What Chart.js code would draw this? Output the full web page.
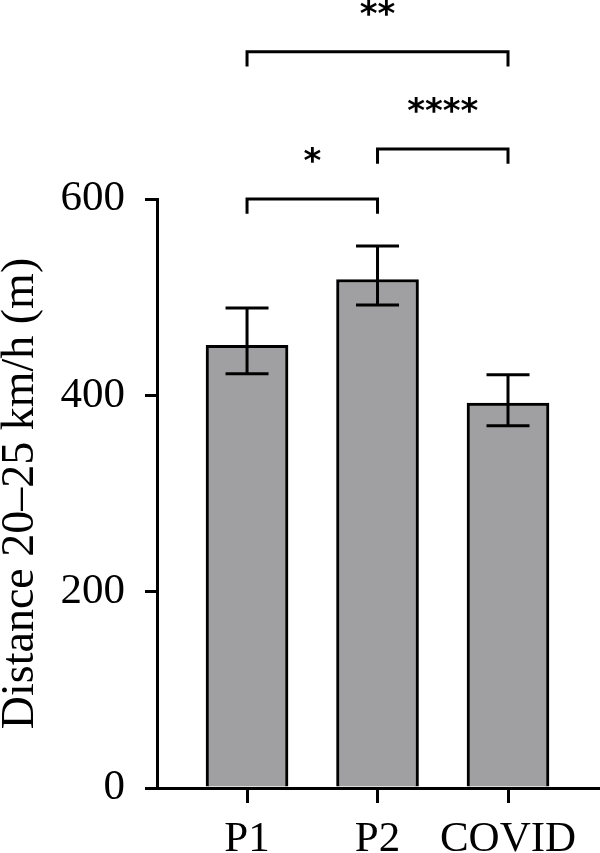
<!DOCTYPE html>
<html>
<head>
<meta charset="utf-8">
<script src="https://cdn.jsdelivr.net/npm/chart.js@4"></script>
<style>
  html, body { margin: 0; padding: 0; background: #fff; }
  #wrap { width: 600px; height: 853px; position: relative; }
</style>
</head>
<body>
<div id="wrap"><canvas id="myChart"></canvas></div>
<script>
// datos del grafico
const categories = ['P1', 'P2', 'COVID'];
const means = [451, 518, 392];
const errUpper = [489, 552, 421];
const errLower = [422, 492, 369];
const yTicks = [0, 200, 400, 600];
// comparaciones: [desde, hasta, altura, etiqueta]
const brackets = [
    [0, 1, 600, '*'],
    [1, 2, 651, '****'],
    [0, 2, 750, '**']
];

const serif = '"Liberation Serif", "DejaVu Serif", serif';

// dibuja barras de error y corchetes de significancia
const extras = {
    id: 'extras',
    afterDatasetsDraw(chart) {
        const ctx = chart.ctx;
        const x = chart.scales.x;
        const y = chart.scales.y;
        ctx.save();
        ctx.strokeStyle = '#000';
        ctx.lineWidth = 3;
        ctx.lineCap = 'butt';
        // error bars
        means.forEach((m, i) => {
            const cx = x.getPixelForValue(i);
            const top = y.getPixelForValue(errUpper[i]);
            const bot = y.getPixelForValue(errLower[i]);
            ctx.beginPath();
            ctx.moveTo(cx, top);
            ctx.lineTo(cx, bot);
            ctx.moveTo(cx - 21.5, top);
            ctx.lineTo(cx + 21.5, top);
            ctx.moveTo(cx - 21.5, bot);
            ctx.lineTo(cx + 21.5, bot);
            ctx.stroke();
        });
        // corchetes
        ctx.font = 'bold 34px "DejaVu Sans", sans-serif';
        ctx.fillStyle = '#000';
        ctx.textAlign = 'center';
        ctx.textBaseline = 'alphabetic';
        brackets.forEach(([a, b, h, label]) => {
            const x1 = x.getPixelForValue(a);
            const x2 = x.getPixelForValue(b);
            const yy = y.getPixelForValue(h);
            const drop = y.getPixelForValue(h - 15) - yy;
            ctx.beginPath();
            ctx.moveTo(x1, yy + drop);
            ctx.lineTo(x1, yy);
            ctx.lineTo(x2, yy);
            ctx.lineTo(x2, yy + drop);
            ctx.stroke();
            const mt = ctx.measureText(label);
            const cy = y.getPixelForValue(h + 45);
            const off = (mt.actualBoundingBoxAscent - mt.actualBoundingBoxDescent) / 2;
            ctx.fillText(label, (x1 + x2) / 2, cy + off);
        });
        ctx.restore();
    }
};

const ctx = document.getElementById('myChart').getContext('2d');
const myChart = new Chart(ctx, {
    type: 'bar',
    data: {
        datasets: [{
            data: means.map((v, i) => ({ x: i, y: v })),
            backgroundColor: '#a0a0a2',
            borderColor: '#000',
            borderWidth: 3,
            barThickness: 82
        }]
    },
    options: {
        responsive: true,
        maintainAspectRatio: false,
        animation: false,
        layout: { padding: { top: 199, right: 0, left: 0, bottom: 0 } },
        plugins: { legend: { display: false }, tooltip: { enabled: false } },
        scales: {
            x: {
                type: 'linear',
                offset: false,
                min: -0.69,
                max: 2.705,
                afterBuildTicks: s => { s.ticks = categories.map((c, i) => ({ value: i })); },
                afterFit: s => { s.height = 65; },
                border: { color: '#000', width: 3 },
                grid: { drawOnChartArea: false, offset: false, color: '#000', lineWidth: 3, tickLength: 15 },
                ticks: {
                    color: '#000',
                    padding: 11,
                    maxRotation: 0,
                    font: { family: serif, size: 43 },
                    callback: v => categories[v]
                }
            },
            y: {
                min: 0,
                max: 600,
                afterBuildTicks: s => { s.ticks = yTicks.map(v => ({ value: v })); },
                afterFit: s => { s.width = 157; },
                border: { color: '#000', width: 3 },
                grid: { drawOnChartArea: false, color: '#000', lineWidth: 3, tickLength: 12 },
                ticks: {
                    color: '#000',
                    padding: 20,
                    font: { family: serif, size: 43 }
                },
                title: {
                    display: true,
                    text: 'Distance 20–25 km/h (m)',
                    color: '#000',
                    padding: { top: -2, bottom: 0 },
                    font: { family: serif, size: 46, lineHeight: 1 }
                }
            }
        }
    },
    plugins: [extras]
});
</script>
</body>
</html>
